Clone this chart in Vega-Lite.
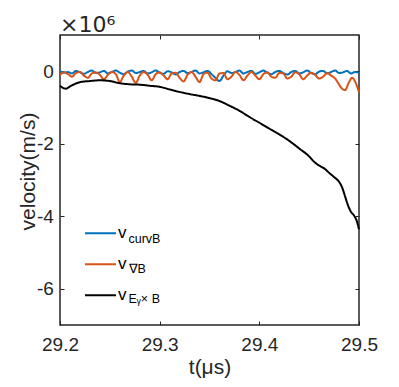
{
  "$schema": "https://vega.github.io/schema/vega-lite/v6.json",
  "width": 299,
  "height": 290,
  "autosize": "none",
  "padding": {"left": 60, "top": 35, "right": 40, "bottom": 62},
  "title": {"text": "×10⁶", "anchor": "start", "frame": "group", "baseline": "alphabetic", "offset": -19, "fontSize": 22, "font": "DejaVu Sans", "fontWeight": "normal", "color": "#262626"},
  "config": {
    "view": {"stroke": "#262626", "strokeWidth": 1.5},
    "axis": {"grid": false, "domain": false, "labelFont": "Liberation Sans", "labelFontSize": 19, "labelColor": "#262626", "titleFont": "Liberation Sans", "titleFontSize": 21, "titleFontWeight": "normal", "titleColor": "#262626", "tickColor": "#262626", "tickWidth": 1}
  },
  "datasets": {
    "d": [
      {"t":29.200,"v":0.00,"s":"curvB"},{"t":29.204,"v":-0.04,"s":"curvB"},{"t":29.208,"v":-0.02,"s":"curvB"},{"t":29.212,"v":-0.06,"s":"curvB"},{"t":29.216,"v":0.01,"s":"curvB"},{"t":29.220,"v":-0.03,"s":"curvB"},{"t":29.224,"v":-0.07,"s":"curvB"},{"t":29.228,"v":-0.02,"s":"curvB"},{"t":29.232,"v":0.02,"s":"curvB"},{"t":29.236,"v":-0.05,"s":"curvB"},{"t":29.240,"v":-0.03,"s":"curvB"},{"t":29.244,"v":0.01,"s":"curvB"},{"t":29.248,"v":-0.06,"s":"curvB"},{"t":29.252,"v":-0.02,"s":"curvB"},{"t":29.256,"v":0.02,"s":"curvB"},{"t":29.260,"v":-0.04,"s":"curvB"},{"t":29.264,"v":-0.08,"s":"curvB"},{"t":29.268,"v":-0.01,"s":"curvB"},{"t":29.272,"v":0.02,"s":"curvB"},{"t":29.276,"v":-0.05,"s":"curvB"},{"t":29.280,"v":-0.02,"s":"curvB"},{"t":29.284,"v":0.01,"s":"curvB"},{"t":29.288,"v":-0.06,"s":"curvB"},{"t":29.292,"v":-0.03,"s":"curvB"},{"t":29.296,"v":0.02,"s":"curvB"},{"t":29.300,"v":-0.04,"s":"curvB"},{"t":29.304,"v":-0.07,"s":"curvB"},{"t":29.308,"v":0.00,"s":"curvB"},{"t":29.312,"v":-0.03,"s":"curvB"},{"t":29.316,"v":-0.09,"s":"curvB"},{"t":29.320,"v":-0.02,"s":"curvB"},{"t":29.324,"v":0.01,"s":"curvB"},{"t":29.328,"v":-0.05,"s":"curvB"},{"t":29.332,"v":-0.02,"s":"curvB"},{"t":29.336,"v":0.02,"s":"curvB"},{"t":29.340,"v":-0.06,"s":"curvB"},{"t":29.344,"v":-0.03,"s":"curvB"},{"t":29.348,"v":0.01,"s":"curvB"},{"t":29.352,"v":-0.08,"s":"curvB"},{"t":29.356,"v":-0.18,"s":"curvB"},{"t":29.360,"v":-0.27,"s":"curvB"},{"t":29.364,"v":-0.12,"s":"curvB"},{"t":29.368,"v":0.00,"s":"curvB"},{"t":29.372,"v":-0.05,"s":"curvB"},{"t":29.376,"v":-0.02,"s":"curvB"},{"t":29.380,"v":0.02,"s":"curvB"},{"t":29.384,"v":-0.06,"s":"curvB"},{"t":29.388,"v":-0.02,"s":"curvB"},{"t":29.392,"v":0.01,"s":"curvB"},{"t":29.396,"v":-0.07,"s":"curvB"},{"t":29.400,"v":-0.03,"s":"curvB"},{"t":29.404,"v":0.02,"s":"curvB"},{"t":29.408,"v":-0.04,"s":"curvB"},{"t":29.412,"v":-0.08,"s":"curvB"},{"t":29.416,"v":-0.02,"s":"curvB"},{"t":29.420,"v":0.01,"s":"curvB"},{"t":29.424,"v":-0.05,"s":"curvB"},{"t":29.428,"v":-0.09,"s":"curvB"},{"t":29.432,"v":-0.02,"s":"curvB"},{"t":29.436,"v":0.01,"s":"curvB"},{"t":29.440,"v":-0.06,"s":"curvB"},{"t":29.444,"v":-0.03,"s":"curvB"},{"t":29.448,"v":0.02,"s":"curvB"},{"t":29.452,"v":-0.05,"s":"curvB"},{"t":29.456,"v":-0.08,"s":"curvB"},{"t":29.460,"v":-0.01,"s":"curvB"},{"t":29.464,"v":0.01,"s":"curvB"},{"t":29.468,"v":-0.06,"s":"curvB"},{"t":29.472,"v":-0.02,"s":"curvB"},{"t":29.476,"v":0.02,"s":"curvB"},{"t":29.480,"v":-0.05,"s":"curvB"},{"t":29.484,"v":-0.03,"s":"curvB"},{"t":29.488,"v":0.01,"s":"curvB"},{"t":29.492,"v":-0.06,"s":"curvB"},{"t":29.496,"v":-0.02,"s":"curvB"},{"t":29.500,"v":-0.04,"s":"curvB"},

      {"t":29.200,"v":-0.10,"s":"∇B"},{"t":29.204,"v":-0.03,"s":"∇B"},{"t":29.208,"v":-0.08,"s":"∇B"},{"t":29.212,"v":-0.15,"s":"∇B"},{"t":29.216,"v":-0.05,"s":"∇B"},{"t":29.220,"v":-0.02,"s":"∇B"},{"t":29.224,"v":-0.12,"s":"∇B"},{"t":29.228,"v":-0.18,"s":"∇B"},{"t":29.232,"v":-0.06,"s":"∇B"},{"t":29.236,"v":-0.03,"s":"∇B"},{"t":29.240,"v":-0.10,"s":"∇B"},{"t":29.244,"v":-0.22,"s":"∇B"},{"t":29.248,"v":-0.10,"s":"∇B"},{"t":29.252,"v":-0.02,"s":"∇B"},{"t":29.256,"v":-0.08,"s":"∇B"},{"t":29.260,"v":-0.30,"s":"∇B"},{"t":29.264,"v":-0.12,"s":"∇B"},{"t":29.268,"v":-0.02,"s":"∇B"},{"t":29.272,"v":-0.15,"s":"∇B"},{"t":29.276,"v":-0.32,"s":"∇B"},{"t":29.280,"v":-0.12,"s":"∇B"},{"t":29.284,"v":-0.02,"s":"∇B"},{"t":29.288,"v":-0.10,"s":"∇B"},{"t":29.292,"v":-0.25,"s":"∇B"},{"t":29.296,"v":-0.08,"s":"∇B"},{"t":29.300,"v":-0.03,"s":"∇B"},{"t":29.304,"v":-0.12,"s":"∇B"},{"t":29.308,"v":-0.22,"s":"∇B"},{"t":29.312,"v":-0.06,"s":"∇B"},{"t":29.316,"v":-0.04,"s":"∇B"},{"t":29.320,"v":-0.18,"s":"∇B"},{"t":29.324,"v":-0.28,"s":"∇B"},{"t":29.328,"v":-0.10,"s":"∇B"},{"t":29.332,"v":-0.02,"s":"∇B"},{"t":29.336,"v":-0.15,"s":"∇B"},{"t":29.340,"v":-0.30,"s":"∇B"},{"t":29.344,"v":-0.08,"s":"∇B"},{"t":29.348,"v":-0.04,"s":"∇B"},{"t":29.352,"v":-0.20,"s":"∇B"},{"t":29.356,"v":-0.25,"s":"∇B"},{"t":29.360,"v":-0.06,"s":"∇B"},{"t":29.364,"v":-0.05,"s":"∇B"},{"t":29.368,"v":-0.22,"s":"∇B"},{"t":29.372,"v":-0.15,"s":"∇B"},{"t":29.376,"v":-0.02,"s":"∇B"},{"t":29.380,"v":-0.10,"s":"∇B"},{"t":29.384,"v":-0.25,"s":"∇B"},{"t":29.388,"v":-0.12,"s":"∇B"},{"t":29.392,"v":-0.02,"s":"∇B"},{"t":29.396,"v":-0.12,"s":"∇B"},{"t":29.400,"v":-0.22,"s":"∇B"},{"t":29.404,"v":-0.08,"s":"∇B"},{"t":29.408,"v":-0.03,"s":"∇B"},{"t":29.412,"v":-0.15,"s":"∇B"},{"t":29.416,"v":-0.18,"s":"∇B"},{"t":29.420,"v":-0.05,"s":"∇B"},{"t":29.424,"v":-0.06,"s":"∇B"},{"t":29.428,"v":-0.20,"s":"∇B"},{"t":29.432,"v":-0.15,"s":"∇B"},{"t":29.436,"v":-0.03,"s":"∇B"},{"t":29.440,"v":-0.08,"s":"∇B"},{"t":29.444,"v":-0.22,"s":"∇B"},{"t":29.448,"v":-0.12,"s":"∇B"},{"t":29.452,"v":-0.04,"s":"∇B"},{"t":29.456,"v":-0.10,"s":"∇B"},{"t":29.460,"v":-0.20,"s":"∇B"},{"t":29.464,"v":-0.15,"s":"∇B"},{"t":29.468,"v":-0.05,"s":"∇B"},{"t":29.472,"v":-0.12,"s":"∇B"},{"t":29.476,"v":-0.20,"s":"∇B"},{"t":29.479,"v":-0.32,"s":"∇B"},{"t":29.482,"v":-0.45,"s":"∇B"},{"t":29.486,"v":-0.52,"s":"∇B"},{"t":29.490,"v":-0.30,"s":"∇B"},{"t":29.493,"v":-0.18,"s":"∇B"},{"t":29.496,"v":-0.28,"s":"∇B"},{"t":29.500,"v":-0.58,"s":"∇B"},

      {"t":29.200,"v":-0.40,"s":"Eᵧ× B"},{"t":29.203,"v":-0.46,"s":"Eᵧ× B"},{"t":29.206,"v":-0.48,"s":"Eᵧ× B"},{"t":29.210,"v":-0.42,"s":"Eᵧ× B"},{"t":29.215,"v":-0.35,"s":"Eᵧ× B"},{"t":29.220,"v":-0.30,"s":"Eᵧ× B"},{"t":29.230,"v":-0.27,"s":"Eᵧ× B"},{"t":29.240,"v":-0.25,"s":"Eᵧ× B"},{"t":29.250,"v":-0.27,"s":"Eᵧ× B"},{"t":29.260,"v":-0.33,"s":"Eᵧ× B"},{"t":29.270,"v":-0.36,"s":"Eᵧ× B"},{"t":29.280,"v":-0.37,"s":"Eᵧ× B"},{"t":29.290,"v":-0.40,"s":"Eᵧ× B"},{"t":29.300,"v":-0.43,"s":"Eᵧ× B"},{"t":29.310,"v":-0.50,"s":"Eᵧ× B"},{"t":29.320,"v":-0.57,"s":"Eᵧ× B"},{"t":29.330,"v":-0.63,"s":"Eᵧ× B"},{"t":29.340,"v":-0.68,"s":"Eᵧ× B"},{"t":29.350,"v":-0.74,"s":"Eᵧ× B"},{"t":29.360,"v":-0.82,"s":"Eᵧ× B"},{"t":29.370,"v":-0.95,"s":"Eᵧ× B"},{"t":29.380,"v":-1.09,"s":"Eᵧ× B"},{"t":29.390,"v":-1.26,"s":"Eᵧ× B"},{"t":29.400,"v":-1.42,"s":"Eᵧ× B"},{"t":29.410,"v":-1.58,"s":"Eᵧ× B"},{"t":29.420,"v":-1.74,"s":"Eᵧ× B"},{"t":29.430,"v":-1.92,"s":"Eᵧ× B"},{"t":29.440,"v":-2.13,"s":"Eᵧ× B"},{"t":29.450,"v":-2.35,"s":"Eᵧ× B"},{"t":29.455,"v":-2.50,"s":"Eᵧ× B"},{"t":29.460,"v":-2.60,"s":"Eᵧ× B"},{"t":29.465,"v":-2.68,"s":"Eᵧ× B"},{"t":29.470,"v":-2.80,"s":"Eᵧ× B"},{"t":29.475,"v":-2.92,"s":"Eᵧ× B"},{"t":29.480,"v":-3.05,"s":"Eᵧ× B"},{"t":29.483,"v":-3.20,"s":"Eᵧ× B"},{"t":29.486,"v":-3.45,"s":"Eᵧ× B"},{"t":29.489,"v":-3.70,"s":"Eᵧ× B"},{"t":29.492,"v":-3.88,"s":"Eᵧ× B"},{"t":29.495,"v":-3.98,"s":"Eᵧ× B"},{"t":29.498,"v":-4.15,"s":"Eᵧ× B"},{"t":29.500,"v":-4.36,"s":"Eᵧ× B"}
    ]
  },
  "data": {"name": "d"},
  "layer": [
    {
      "mark": {"type": "line", "strokeWidth": 2, "interpolate": "monotone"},
      "encoding": {
        "x": {"field": "t", "type": "quantitative", "scale": {"domain": [29.2, 29.5], "nice": false, "zero": false},
              "axis": {"values": [29.2, 29.3, 29.4, 29.5], "format": ".1f", "tickSize": -4, "labelPadding": 14.6, "labelBaseline": "top", "labelFlush": false, "labelOverlap": false, "title": "t(μs)", "titleY": 48.3, "titleBaseline": "alphabetic"}},
        "y": {"field": "v", "type": "quantitative", "scale": {"domain": [-7, 1], "nice": false, "zero": false},
              "axis": {"values": [-6, -4, -2, 0], "labelExpr": "'' + datum.value", "tickSize": -4, "labelPadding": 10.7, "labelOverlap": false, "title": "velocity(m/s)", "titleX": -26, "titleY": 136, "titleBaseline": "alphabetic"}},
        "color": {"field": "s", "type": "nominal", "scale": {"domain": ["curvB", "∇B", "Eᵧ× B"], "range": ["#0072BD", "#D95319", "#000000"]},
                  "legend": {"orient": "none", "legendX": 24, "legendY": 183, "padding": 0, "title": null, "symbolType": "stroke", "symbolSize": 961, "symbolStrokeWidth": 2, "clipHeight": 30.3, "rowPadding": 0, "labelExpr": "'v'", "labelFont": "Liberation Sans", "labelFontSize": 17, "labelColor": "#000000", "labelOffset": 1}},
        "strokeDash": {"field": "s", "type": "nominal", "scale": {"domain": ["curvB", "∇B", "Eᵧ× B"], "range": [[1, 0], [1, 0], [1, 0]]},
                  "legend": {"orient": "bottom-left", "offset": 7, "padding": 0, "title": null, "symbolType": "stroke", "symbolSize": 100, "symbolOpacity": 0, "clipHeight": 29.2, "rowPadding": 0, "labelBaseline": "alphabetic", "labelFont": "Liberation Sans", "labelFontSize": 12.5, "labelColor": "#000000", "labelOffset": 49, "labelLimit": 200}}
      }
    },
    {
      "mark": {"type": "point", "opacity": 0, "size": 1},
      "encoding": {
        "x": {"field": "t", "type": "quantitative", "axis": {"orient": "top", "values": [29.2, 29.3, 29.4, 29.5], "labels": false, "tickSize": -4, "title": null, "minExtent": 0, "maxExtent": 0}},
        "y": {"field": "v", "type": "quantitative", "axis": {"orient": "right", "values": [-6, -4, -2, 0], "labels": false, "tickSize": -4, "title": null, "minExtent": 0, "maxExtent": 0}}
      }
    }
  ],
  "resolve": {"axis": {"x": "independent", "y": "independent"}}
}
